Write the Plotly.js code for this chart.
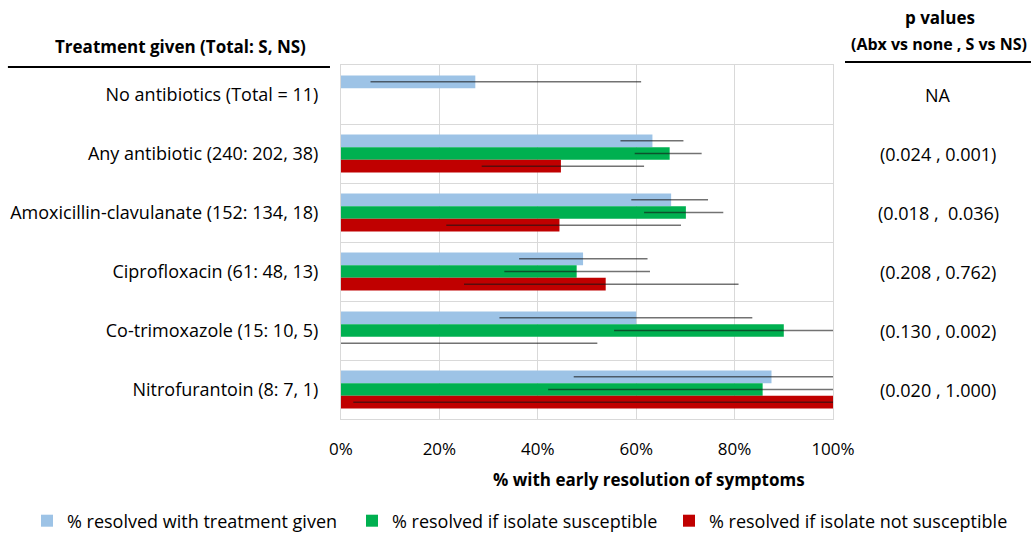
<!DOCTYPE html>
<html>
<head>
<meta charset="utf-8">
<script src="https://cdn.plot.ly/plotly-3.0.1.min.js"></script>
<style>html,body{margin:0;padding:0;background:#fff;}#chart{width:1032px;height:534px;}</style>
</head>
<body>
<div id="chart"></div>
<script>
// ---- data ----
var categories = [
  "No antibiotics (Total = 11)",
  "Any antibiotic (240: 202, 38)",
  "Amoxicillin-clavulanate (152: 134, 18)",
  "Ciprofloxacin (61: 48, 13)",
  "Co-trimoxazole (15: 10, 5)",
  "Nitrofurantoin (8: 7, 1)"
];
var seriesNames = [
  "% resolved with treatment given",
  "% resolved if isolate susceptible",
  "% resolved if isolate not susceptible"
];
// proportion resolved (0-1); null = not applicable
var resolvedGiven       = [0.273, 0.633, 0.671, 0.492, 0.600, 0.875];
var resolvedSusceptible = [null,  0.668, 0.701, 0.479, 0.900, 0.857];
var resolvedNotSusc     = [null,  0.447, 0.444, 0.538, 0.000, 1.000];
// 95% CI bounds
var givenLow   = [0.060, 0.568, 0.590, 0.362, 0.322, 0.473];
var givenHigh  = [0.610, 0.696, 0.746, 0.623, 0.836, 1.000];
var suscLow    = [null,  0.597, 0.616, 0.332, 0.555, 0.421];
var suscHigh   = [null,  0.733, 0.777, 0.628, 1.000, 1.000];
var notSuscLow = [null,  0.286, 0.214, 0.250, 0.000, 0.025];
var notSuscHigh= [null,  0.616, 0.691, 0.808, 0.521, 1.000];
var pValues = ["NA", "(0.024 , 0.001)", "(0.018 ,  0.036)", "(0.208 , 0.762)", "(0.130 , 0.002)", "(0.020 , 1.000)"];
var xTickVals = [0, 0.2, 0.4, 0.6, 0.8, 1.0];
var xTickText = ["0%", "20%", "40%", "60%", "80%", "100%"];

var colors = ["#9DC3E6", "#00B050", "#C00000"];
var legendIds = ["legend", "legend2", "legend3"];
var FONT = "Open Sans, Calibri, sans-serif";

function mk(vals, lo, hi, i) {
  var plus = vals.map(function(v, k){ return v === null ? null : hi[k] - v; });
  var minus = vals.map(function(v, k){ return v === null ? null : v - lo[k]; });
  return {
    type: "bar", orientation: "h",
    y: categories, x: vals, name: seriesNames[i], legend: legendIds[i],
    marker: {color: colors[i]},
    error_x: {type: "data", symmetric: false, array: plus, arrayminus: minus,
              color: "rgba(20,20,20,0.6)", thickness: 1.5, width: 0},
    hoverinfo: "x+name"
  };
}
var traces = [
  mk(resolvedGiven, givenLow, givenHigh, 0),
  mk(resolvedSusceptible, suscLow, suscHigh, 1),
  mk(resolvedNotSusc, notSuscLow, notSuscHigh, 2)
];

var annotations = pValues.map(function(p, k){
  return {xref: "paper", yref: "y", x: 1.2144, y: categories[k], text: p, showarrow: false,
          xanchor: "center", yanchor: "middle", font: {family: FONT, size: 18, color: "#000"}};
});
annotations.push({xref: "paper", yref: "paper", x: 0.625, y: -0.172, text: "<b>% with early resolution of symptoms</b>",
  showarrow: false, xanchor: "center", yanchor: "middle", font: {family: FONT, size: 17, color: "#000"}});
annotations.push({xref: "paper", yref: "paper", x: -0.327, y: 1.051, text: "<b>Treatment given (Total: S, NS)</b>",
  showarrow: false, xanchor: "center", yanchor: "middle", font: {family: FONT, size: 17, color: "#000"}});
annotations.push({xref: "paper", yref: "paper", x: 1.2175, y: 1.133, text: "<b>p values</b>",
  showarrow: false, xanchor: "center", yanchor: "middle", font: {family: FONT, size: 17, color: "#000"}});
annotations.push({xref: "paper", yref: "paper", x: 1.2155, y: 1.059, text: "<b>(Abx vs none , S vs NS)</b>",
  showarrow: false, xanchor: "center", yanchor: "middle", font: {family: FONT, size: 16, color: "#000"}});

var shapes = [
  {type: "line", xref: "paper", yref: "paper", x0: -0.677, x1: -0.0224, y0: 0.9944, y1: 0.9944, line: {color: "#000", width: 2}},
  {type: "line", xref: "paper", yref: "paper", x0: 1.0244, x1: 1.4024, y0: 1.0085, y1: 1.0085, line: {color: "#000", width: 2}}
];

function legendAt(px) {
  return {orientation: "h", xref: "container", yref: "container", x: px / 1032, xanchor: "left",
          y: 13 / 534, yanchor: "middle", valign: "middle",
          font: {family: FONT, size: 18, color: "#000"},
          itemclick: false, itemdoubleclick: false, borderwidth: 0, bgcolor: "rgba(0,0,0,0)"};
}

var layout = {
  width: 1032, height: 534,
  margin: {l: 341, r: 199, t: 65, b: 115},
  paper_bgcolor: "#fff", plot_bgcolor: "#fff",
  barmode: "group", bargap: 0.355, bargroupgap: 0,
  font: {family: FONT, size: 18, color: "#000"},
  xaxis: {range: [0, 1], tickvals: xTickVals, ticktext: xTickText, showgrid: true,
          gridcolor: "#D9D9D9", gridwidth: 1, zeroline: false, showline: true, mirror: true,
          linecolor: "#D9D9D9", linewidth: 1, ticks: "", ticklabelstandoff: 15,
          tickfont: {family: FONT, size: 17, color: "#000"}, fixedrange: true, automargin: false},
  yaxis: {type: "category", autorange: "reversed", tickson: "boundaries", showgrid: true,
          gridcolor: "#D9D9D9", gridwidth: 1, showline: true, mirror: true, linecolor: "#D9D9D9",
          ticks: "", ticklabelstandoff: 18, tickfont: {family: FONT, size: 18, color: "#000"},
          fixedrange: true, automargin: false},
  showlegend: true,
  legend: legendAt(27),
  legend2: legendAt(352),
  legend3: legendAt(669),
  annotations: annotations,
  shapes: shapes
};
Plotly.newPlot("chart", traces, layout, {displayModeBar: false, staticPlot: true});
</script>
</body>
</html>
